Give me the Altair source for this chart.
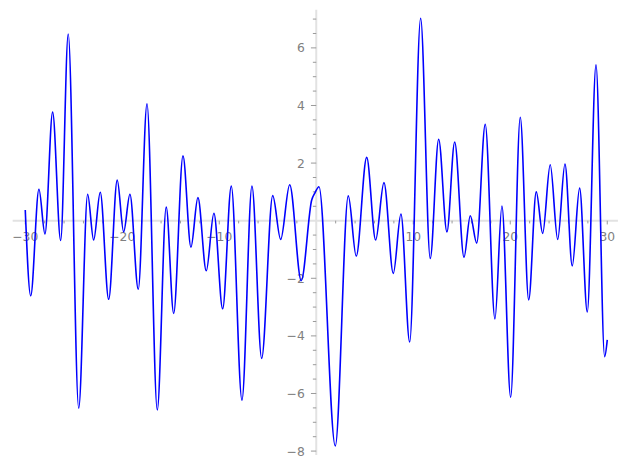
import altair as alt
import pandas as pd

# curve samples (extrema and a few shoulder points)
xs = [-30.0, -29.44, -28.59, -27.97, -27.18, -26.35, -25.57, -24.49, -23.57, -22.95,
      -22.27, -21.40, -20.52, -19.86, -19.21, -18.35, -17.45, -16.39, -15.47, -14.70,
      -13.74, -12.92, -12.20, -11.34, -10.55, -9.65, -8.76, -7.66, -6.63, -5.63,
      -4.49, -3.67, -2.74, -1.55, -0.47, -0.13, 0.28, 1.96, 3.30, 4.12,
      5.20, 6.12, 6.98, 7.94, 8.73, 9.63, 10.76, 11.75, 12.62, 13.47,
      14.27, 15.23, 15.88, 16.54, 17.42, 18.42, 19.14, 20.04, 21.03, 21.90,
      22.68, 23.34, 24.12, 24.89, 25.64, 26.39, 27.15, 27.94, 28.84, 29.73, 30.0]
ys = [0.37, -2.61, 1.09, -0.46, 3.77, -0.69, 6.48, -6.51, 0.92, -0.67,
      0.99, -2.73, 1.41, -0.39, 0.92, -2.38, 4.06, -6.57, 0.47, -3.22,
      2.25, -0.92, 0.80, -1.74, 0.26, -3.06, 1.20, -6.23, 1.20, -4.78,
      0.87, -0.65, 1.25, -2.08, 0.72, 0.97, 1.18, -7.82, 0.86, -1.23,
      2.20, -0.67, 1.32, -1.83, 0.23, -4.21, 7.03, -1.31, 2.83, -0.39,
      2.73, -1.27, 0.17, -0.78, 3.35, -3.41, 0.51, -6.13, 3.59, -2.75,
      1.00, -0.44, 1.94, -0.65, 1.97, -1.57, 1.13, -3.17, 5.41, -4.72, -4.14]

x_major = [-30, -20, -10, 10, 20, 30]
x_major_labels = ["−30", "−20", "−10", "10", "20", "30"]
x_minor = [v for v in range(-30, 31, 2) if v % 10 != 0]
y_major = [-8, -6, -4, -2, 2, 4, 6]
y_major_labels = ["−8", "−6", "−4", "−2", "2", "4", "6"]
y_minor = [v / 2 for v in range(-16, 15) if v % 4 != 0]

x_domain = [-31.78, 31.21]
y_domain = [-8.344, 7.385]
x_axis_ext = [-31.3, 31.1]
y_axis_ext = [-8.14, 7.32]

AXIS_COL = "#e2e2e2"
TICK_COL = "#9a9a9a"
LABEL_COL = "#808080"
FONT = "DejaVu Sans"

xs_scale = alt.Scale(domain=x_domain, nice=False, zero=False)
ys_scale = alt.Scale(domain=y_domain, nice=False, zero=False)


def X(f):
    return alt.X(f, type="quantitative", scale=xs_scale, axis=None)


def Y(f):
    return alt.Y(f, type="quantitative", scale=ys_scale, axis=None)


curve = pd.DataFrame({"x": xs, "y": ys})

xaxis = alt.Chart(pd.DataFrame({"a": [x_axis_ext[0]], "b": [x_axis_ext[1]], "z": [0.0]})).mark_rule(
    color=AXIS_COL, strokeWidth=2).encode(x=X("a"), x2="b", y=Y("z"))
yaxis = alt.Chart(pd.DataFrame({"a": [y_axis_ext[0]], "b": [y_axis_ext[1]], "z": [0.0]})).mark_rule(
    color=AXIS_COL, strokeWidth=2).encode(y=Y("a"), y2="b", x=X("z"))

xmaj = pd.DataFrame({"v": x_major, "t": x_major_labels})
xmaj["z"] = 0.0
xmaj["e"] = -0.13
xmin = pd.DataFrame({"v": x_minor})
xmin["z"] = 0.0
xmin["e"] = -0.095
ymaj = pd.DataFrame({"v": y_major, "t": y_major_labels})
ymaj["z"] = 0.0
ymaj["e"] = -0.55
ymin = pd.DataFrame({"v": y_minor})
ymin["z"] = 0.0
ymin["e"] = -0.35

xmaj_ticks = alt.Chart(xmaj).mark_rule(color=TICK_COL, strokeWidth=1).encode(
    x=X("v"), y=Y("z"), y2="e")
xmin_ticks = alt.Chart(xmin).mark_rule(color=TICK_COL, strokeWidth=1).encode(
    x=X("v"), y=Y("z"), y2="e")
ymaj_ticks = alt.Chart(ymaj).mark_rule(color=TICK_COL, strokeWidth=1).encode(
    y=Y("v"), x=X("z"), x2="e")
ymin_ticks = alt.Chart(ymin).mark_rule(color=TICK_COL, strokeWidth=1).encode(
    y=Y("v"), x=X("z"), x2="e")

xlabels = alt.Chart(xmaj).mark_text(
    font=FONT, fontSize=12.3, color=LABEL_COL, align="center", baseline="alphabetic", dy=20).encode(
    x=X("v"), y=Y("z"), text="t:N")
ylabels = alt.Chart(ymaj).mark_text(
    font=FONT, fontSize=12.3, color=LABEL_COL, align="right", baseline="alphabetic", dx=-11.5, dy=4.5).encode(
    y=Y("v"), x=X("z"), text="t:N")

line = alt.Chart(curve).mark_line(color="#0000ff", strokeWidth=1.6, interpolate="monotone").encode(
    x=X("x"), y=Y("y"))

chart = alt.layer(xaxis, yaxis, xmaj_ticks, xmin_ticks, ymaj_ticks, ymin_ticks,
                  xlabels, ylabels, line).properties(
    width=611, height=453, padding=0, background="white",
    autosize=alt.AutoSizeParams(type="none"),
).configure_view(strokeWidth=0, stroke=None)

chart.save("out.html", embed_options={"renderer": "svg", "actions": False})
